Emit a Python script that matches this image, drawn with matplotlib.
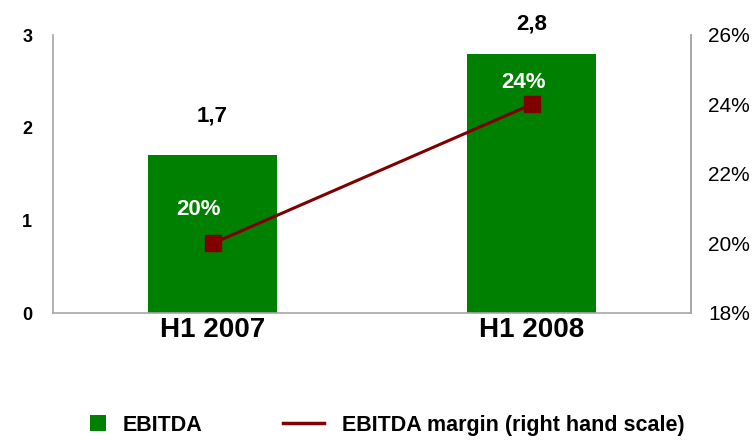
import matplotlib
matplotlib.use("Agg")
import matplotlib.pyplot as plt
from matplotlib.patches import Patch
from matplotlib.lines import Line2D

plt.rcParams['font.family'] = ['Liberation Sans', 'DejaVu Sans']

categories = ["H1 2007", "H1 2008"]
ebitda = [1.7, 2.8]
ebitda_labels = ["1,7", "2,8"]
margin = [20, 24]
margin_labels = ["20%", "24%"]

green = "#008000"
red = "#800000"
gray = "#A6A6A6"

fig = plt.figure(figsize=(7.56, 4.40), dpi=100)
ax = fig.add_axes([53/756, 1-313/440, 638/756, 278/440])
x = list(range(len(categories)))
ax.bar(x, ebitda, width=0.404, color=green, zorder=2)
ax.set_xlim(-0.5, 1.5)
ax.set_ylim(0, 3)
ax.set_yticks([0, 1, 2, 3])
ax.set_yticklabels(["0", "1", "2", "3"], fontsize=13, fontweight='bold')
ax.set_xticks(x)
ax.set_xticklabels(categories, fontsize=20, fontweight='bold')
ax.tick_params(axis='both', length=0)
ax.tick_params(axis='y', pad=15)
ax.tick_params(axis='x', pad=3)
ax.spines['top'].set_visible(False)
for s in ['left', 'bottom', 'right']:
    ax.spines[s].set_color(gray)
    ax.spines[s].set_linewidth(1.2)

val_offsets = [21, 14]
for xi, v, lab, off in zip(x, ebitda, ebitda_labels, val_offsets):
    ax.annotate(lab, (xi, v), xytext=(0, off), textcoords='offset points',
                ha='center', va='bottom', fontsize=16, fontweight='bold')

ax2 = ax.twinx()
ax2.set_ylim(18, 26)
ax2.set_yticks([18, 20, 22, 24, 26])
ax2.set_yticklabels(["18%", "20%", "22%", "24%", "26%"], fontsize=15)
ax2.tick_params(axis='y', length=0, pad=12.5)
for s in ['top', 'left', 'bottom']:
    ax2.spines[s].set_visible(False)
ax2.spines['right'].set_color(gray)
ax2.spines['right'].set_linewidth(1.2)
ax2.plot(x, margin, color=red, linewidth=2.2, marker='s', markersize=12, zorder=3)
lab_offsets = [(-10, 17), (-6, 8)]
for xi, v, lab, off in zip(x, margin, margin_labels, lab_offsets):
    ax2.annotate(lab, (xi, v), xytext=off, textcoords='offset points',
                 ha='center', va='bottom', fontsize=16, fontweight='bold', color='white')

prop = {'size': 15.5, 'weight': 'bold'}
leg1 = fig.legend([Patch(facecolor=green, edgecolor='none')], ["EBITDA"],
                  loc='center left', bbox_to_anchor=(90/756, 1-425/440),
                  frameon=False, prop=prop, borderpad=0, borderaxespad=0,
                  handlelength=0.75, handleheight=0.75, handletextpad=0.75)
leg2 = fig.legend([Line2D([0], [0], color=red, linewidth=2.5)],
                  ["EBITDA margin (right hand scale)"],
                  loc='center left', bbox_to_anchor=(283/756, 1-425/440),
                  frameon=False, prop=prop, borderpad=0, borderaxespad=0,
                  handlelength=1.9, handletextpad=0.85)

fig.savefig("out.png", dpi=100)
